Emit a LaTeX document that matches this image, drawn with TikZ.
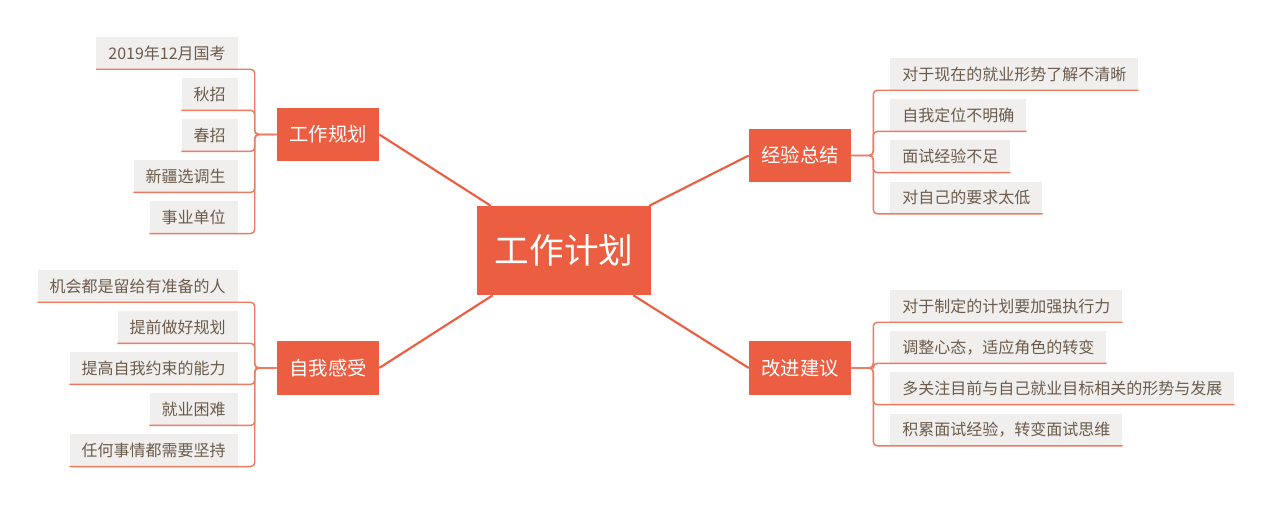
\documentclass[tikz,border=0pt]{standalone}
\usepackage{fontspec}
\setmainfont{Noto Sans CJK SC}
\usetikzlibrary{positioning,calc}

\definecolor{coral}{HTML}{EB5E41}
\definecolor{twigred}{HTML}{EE7A60}
\definecolor{leafgray}{HTML}{F0EFEE}
\definecolor{leaftext}{HTML}{6B5B4B}

\begin{document}
\begin{tikzpicture}[x=0.75pt,y=-0.75pt,
    root/.style={rectangle, fill=coral, text=white, minimum width=130.5pt, minimum height=66.75pt, font=\fontsize{26}{30}\selectfont},
    topic/.style={rectangle, fill=coral, text=white, minimum width=76.5pt, minimum height=40pt, font=\fontsize{14.5}{17}\selectfont},
    leaf/.style={rectangle, fill=leafgray, text=leaftext, minimum height=24pt, inner xsep=9pt, inner ysep=0pt, font=\fontsize{12}{14}\selectfont},
    branch/.style={draw=coral, line width=1.6pt},
    twig/.style={draw=twigred, line width=1.1pt, rounded corners=3pt}]
        \useasboundingbox (0,0) rectangle (1280,505);
        % Nodes
        \node [root] (plan) at (564,250.5) {工作计划};
        \node [topic] (work) at (328,134.5) {工作规划};
        \node [topic] (feel) at (328,368) {自我感受};
        \node [topic] (review) at (800,155.5) {经验总结};
        \node [topic] (advice) at (800,368) {改进建议};

        % Leaves left
        \node [leaf,anchor=east] (w1) at (238,53) {2019年12月国考};
        \node [leaf,below=6.4pt of w1.south east,anchor=north east] (w2) {秋招};
        \node [leaf,below=6.4pt of w2.south east,anchor=north east] (w3) {春招};
        \node [leaf,below=6.4pt of w3.south east,anchor=north east] (w4) {新疆选调生};
        \node [leaf,below=6.4pt of w4.south east,anchor=north east] (w5) {事业单位};

        \node [leaf,anchor=east] (f1) at (238,286) {机会都是留给有准备的人};
        \node [leaf,below=6.4pt of f1.south east,anchor=north east] (f2) {提前做好规划};
        \node [leaf,below=6.4pt of f2.south east,anchor=north east] (f3) {提高自我约束的能力};
        \node [leaf,below=6.4pt of f3.south east,anchor=north east] (f4) {就业困难};
        \node [leaf,below=6.4pt of f4.south east,anchor=north east] (f5) {任何事情都需要坚持};

        % Leaves right
        \node [leaf,anchor=west] (r1) at (890,74) {对于现在的就业形势了解不清晰};
        \node [leaf,below=6.5pt of r1.south west,anchor=north west] (r2) {自我定位不明确};
        \node [leaf,below=6.5pt of r2.south west,anchor=north west] (r3) {面试经验不足};
        \node [leaf,below=6.5pt of r3.south west,anchor=north west] (r4) {对自己的要求太低};

        \node [leaf,anchor=west] (a1) at (890,306) {对于制定的计划要加强执行力};
        \node [leaf,below=6.5pt of a1.south west,anchor=north west] (a2) {调整心态，适应角色的转变};
        \node [leaf,below=6.5pt of a2.south west,anchor=north west] (a3) {多关注目前与自己就业目标相关的形势与发展};
        \node [leaf,below=6.5pt of a3.south west,anchor=north west] (a4) {积累面试经验，转变面试思维};

        % Arrows
        \draw[branch] (work.east) -- ($(plan.north west)+(14,0)$);
        \draw[branch] (review.west) -- ($(plan.north east)+(-2,0)$);
        \draw[branch] (feel.east) -- ($(plan.south west)+(16,0)$);
        \draw[branch] (advice.west) -- ($(plan.south east)+(-18,0)$);

        \foreach \l in {w1,w2,w3,w4,w5}
            \draw[twig] (work.west) -- ++(-22,0) |- (\l.south west);
        \foreach \l in {f1,f2,f3,f4,f5}
            \draw[twig] (feel.west) -- ++(-22,0) |- (\l.south west);
        \foreach \l in {r1,r2,r3,r4}
            \draw[twig] (review.east) -- ++(22,0) |- (\l.south east);
        \foreach \l in {a1,a2,a3,a4}
            \draw[twig] (advice.east) -- ++(22,0) |- (\l.south east);
\end{tikzpicture}
\end{document}
